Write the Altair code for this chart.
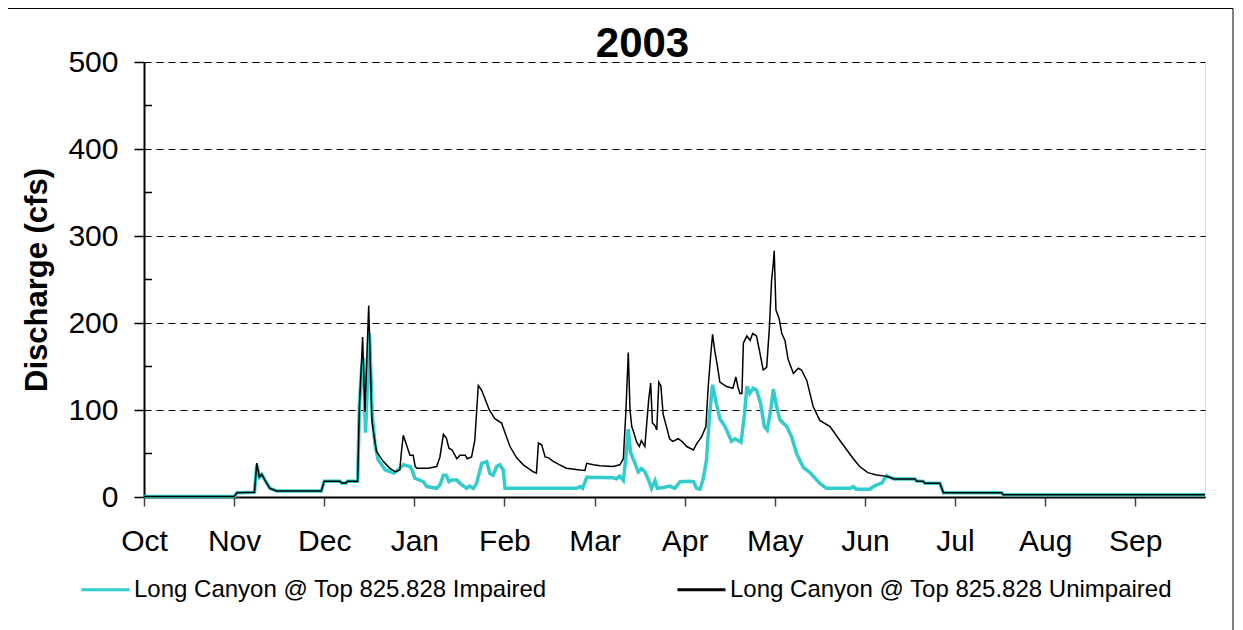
import altair as alt
import pandas as pd

# ---- data (day index from 1 Oct 2002, discharge in cfs) ----
unimp_day = [0, 31, 32, 38, 38.8, 39.7, 40.5, 41.6, 43.3, 45.6, 61, 62, 67.4, 68, 69.5, 70, 73.5,
             74.1, 74.9, 75.2, 76, 77.3, 78.4, 79, 80, 82.3, 84.6, 86.5, 88, 88.5, 89.2, 90.4, 91.5,
             92.6, 93.3, 94, 97.7, 100.7, 101.8, 103, 104, 104.9, 106, 107.6, 108.7, 110.5, 111.2,
             112.7, 113.8, 115, 116.1, 117.3, 118.8, 120.7, 123, 124.3, 125.9, 128.2, 130.5, 133.9,
             135, 135.7, 136.8, 138, 139.2, 140.8, 143, 145.3, 150, 151.7, 152.3, 154.6, 156.9,
             161.4, 163.7, 164.9, 165.8, 166.6, 167.2, 167.8, 168.4, 169.5, 170.4, 171.1, 172.3,
             173.6, 174.3, 174.9, 175.8, 176.4, 177.1, 177.8, 178.6, 179.8, 180.8, 181.9, 183.8,
             185, 186.7, 189, 190.1, 191.8, 193.3, 194.1, 195, 195.6, 196.4, 197.2, 198.1, 200.4,
             202.6, 203.6, 204.3, 205, 205.7, 206.2, 207.4, 208.5, 209.4, 210.7, 211.8, 213, 214.2,
             215.1, 215.9, 216.5, 216.8, 217.4, 218.5, 219.4, 220.5, 221.6, 223.4, 225.1, 226.2,
             228, 230.2, 232.5, 236, 239.4, 241.8, 244, 246.2, 249, 252, 254.9, 256, 258, 265.2,
             265.8, 268, 268.7, 273.8, 275, 295, 295.6, 365]
unimp_cfs = [0.5, 0.5, 5, 5.5, 39, 23, 26, 19.5, 10, 7, 7, 18, 18, 16, 16, 18, 18,
             104, 161, 184, 98, 220, 88, 73, 52, 41, 33, 29, 31, 50, 71, 59, 48,
             48, 35, 33, 33, 35, 46, 72, 68, 56, 54, 44, 48, 48, 44,
             46, 65, 128, 123, 113, 100, 90, 85, 73, 58, 45, 37, 29,
             27.5, 62, 60, 46, 45, 41, 37, 33, 31, 30.5, 38.7, 37, 36,
             35, 37, 44, 100, 166, 100, 81, 75, 63, 58, 65, 58,
             111, 131, 85, 82, 77, 132, 128, 95, 80, 67, 64, 67,
             64, 58, 54, 61, 69, 81, 127, 165, 187, 167, 152, 132, 127,
             125, 138, 127, 119, 119, 177, 185, 180, 188, 185, 167, 146, 149,
             192, 249, 269, 283, 215, 205, 188, 180, 158, 142, 148, 146,
             134, 104, 88, 81, 65, 54, 44, 35, 28, 25.3, 24, 23.4, 20.7, 20.7,
             18.4, 18, 15.7, 15.7, 5, 5, 2.7, 2.7]

imp_day = [0, 31, 32, 38, 38.8, 39.7, 40.5, 41.6, 43.3, 45.6, 61, 62, 67.4, 68, 69.5, 70, 73.5,
           74.1, 74.9, 75.5, 76.2, 77.6, 78.5, 79.5, 80.5, 83, 86, 88, 89.2, 91.5, 92.2, 93.2,
           96.1, 97.3, 100.7, 101.8, 103, 104, 104.9, 105.9, 107.6, 108.7, 111, 112, 113.3, 114.4,
           116.2, 117.9, 119, 120.1, 121.3, 122.4, 123.6, 124.2, 148.8, 150, 150.9, 152.3, 161.4,
           162.5, 163.7, 164.9, 165.8, 166.6, 167.4, 168.9, 170, 171.1, 172.3, 173.5, 174.6,
           175.8, 176.6, 178.6, 180.9, 182.6, 184.4, 187.8, 189, 190.1, 191.3, 192.4, 193.5,
           194.5, 195.6, 197, 198.1, 199.9, 202.1, 203.3, 204.4, 205.4, 206.6, 207.4, 208.4,
           209.6, 210.7, 212.1, 213.4, 214.4, 215.6, 216.5, 217.6, 218.8, 221.1, 222.8, 224.5,
           226.8, 229.1, 232.5, 234.8, 242.9, 244, 245, 249.7, 250.9, 252, 254, 254.5, 255.5,
           256, 258, 265.2, 265.8, 268, 268.7, 273.8, 275, 295, 295.6, 365]
imp_cfs = [0.5, 0.5, 5, 5.5, 37, 23, 26, 19.5, 10, 7, 7, 18, 18, 16, 16, 18, 18,
           104, 150, 160, 74, 188, 95, 60, 43, 31, 27.6, 33, 37, 35, 31, 21.5,
           17.6, 12, 10, 14, 25, 25, 17.6, 19.5, 19.5, 15.7, 10, 12.6, 10, 15.7,
           38.7, 40.6, 27, 25, 35, 37, 31, 10, 10, 12, 10, 22.6, 22,
           21, 24, 19, 46, 78, 51, 38.7, 29, 32.6, 29, 20, 10,
           18.8, 10, 11, 12.6, 10, 17.6, 18, 17.6, 10, 9, 21.5, 42.5,
           92, 129, 106, 90, 81, 64, 67, 65, 63, 96, 127, 119,
           125, 123, 108, 81, 77, 100, 124, 104, 88.5, 81, 69, 50,
           34, 28, 15.7, 10, 10, 12, 9, 9, 12, 13.8, 16.5, 20, 24.5,
           23.4, 20.7, 20.7, 18.4, 18, 15.7, 15.7, 5, 5, 2.7, 2.7]

series_names = ["Long Canyon @ Top 825.828 Impaired", "Long Canyon @ Top 825.828 Unimpaired"]
series_colors = ["#33CCCC", "#000000"]
month_labels = ["Oct", "Nov", "Dec", "Jan", "Feb", "Mar", "Apr", "May", "Jun", "Jul", "Aug", "Sep"]
x_tick_days = [0, 31, 62, 93, 124, 155, 186, 217, 248, 279, 310, 341]
y_major = [0, 100, 200, 300, 400, 500]
y_minor = [50, 150, 250, 350, 450]
chart_title = ["2003"]

imp_df = pd.DataFrame({"day": imp_day, "cfs": imp_cfs, "series": series_names[0]})
unimp_df = pd.DataFrame({"day": unimp_day, "cfs": unimp_cfs, "series": series_names[1]})
minor_df = pd.DataFrame({"cfs": y_minor})
title_df = pd.DataFrame({"label": chart_title})

FONT = "Liberation Sans"
label_expr = "[" + ",".join("'%s'" % m for m in month_labels) + "][round(datum.value / 31)]"

x_enc = alt.X("day:Q", scale=alt.Scale(domain=[0, 365], nice=False, zero=False),
              axis=alt.Axis(values=x_tick_days, labelExpr=label_expr, title=None, grid=False,
                            tickSize=9, tickColor="#444444", tickWidth=1.5,
                            domainColor="#000000", domainWidth=2,
                            labelFontSize=30, labelFont=FONT, labelColor="#000000",
                            labelPadding=20, labelFlush=False, labelOverlap=False))
y_enc = alt.Y("cfs:Q", scale=alt.Scale(domain=[0, 500], nice=False),
              axis=alt.Axis(values=y_major, title="Discharge (cfs)", titleFontSize=31,
                            titleFont=FONT, titleFontWeight="bold", titleColor="#000000",
                            titlePadding=14,
                            grid=True, gridDash=[7, 5], gridColor="#000000", gridWidth=1,
                            tickSize=10, tickColor="#000000", tickWidth=1.5,
                            domainColor="#000000", domainWidth=2,
                            labelFontSize=30, labelFont=FONT, labelColor="#000000",
                            labelPadding=16))

color_enc = alt.Color("series:N",
                      scale=alt.Scale(domain=series_names, range=series_colors),
                      legend=alt.Legend(
                          title=None, orient="none", legendX=-64, legendY=502,
                          direction="horizontal", columns=2, columnPadding=124,
                          symbolType="stroke", symbolSize=2304, symbolStrokeWidth=3,
                          labelFontSize=24, labelFont=FONT, labelColor="#000000",
                          labelLimit=700, labelOffset=3))

imp_line = alt.Chart(imp_df).mark_line(strokeWidth=3.5).encode(x=x_enc, y=y_enc, color=color_enc)
unimp_line = alt.Chart(unimp_df).mark_line(strokeWidth=1.5).encode(x=x_enc, y=y_enc, color=color_enc)

minor_ticks = alt.Chart(minor_df).mark_rule(color="#000000", strokeWidth=1.5).encode(
    y=alt.Y("cfs:Q"), x=alt.value(0), x2=alt.value(8))

frame = alt.Chart(title_df).mark_rect(fillOpacity=0, stroke="#000000", strokeWidth=1).encode(
    x=alt.value(-136.5), x2=alt.value(1089), y=alt.value(-53.5), y2=alt.value(640))

title_text = alt.Chart(title_df).mark_text(
    font=FONT, fontSize=42, fontWeight="bold", color="#000000",
    align="center", baseline="alphabetic").encode(
    text="label:N", x=alt.value(498.5), y=alt.value(-5))

chart = alt.layer(frame, imp_line, unimp_line, minor_ticks, title_text).properties(
    width=1061, height=435,
    padding={"left": 136, "top": 54, "right": 30, "bottom": 133},
    autosize=alt.AutoSizeParams(type="none"),
).configure_view(stroke="#808080", strokeWidth=1.5).configure(background="white")

chart.save("out.html", embed_options={"renderer": "svg", "actions": False})
